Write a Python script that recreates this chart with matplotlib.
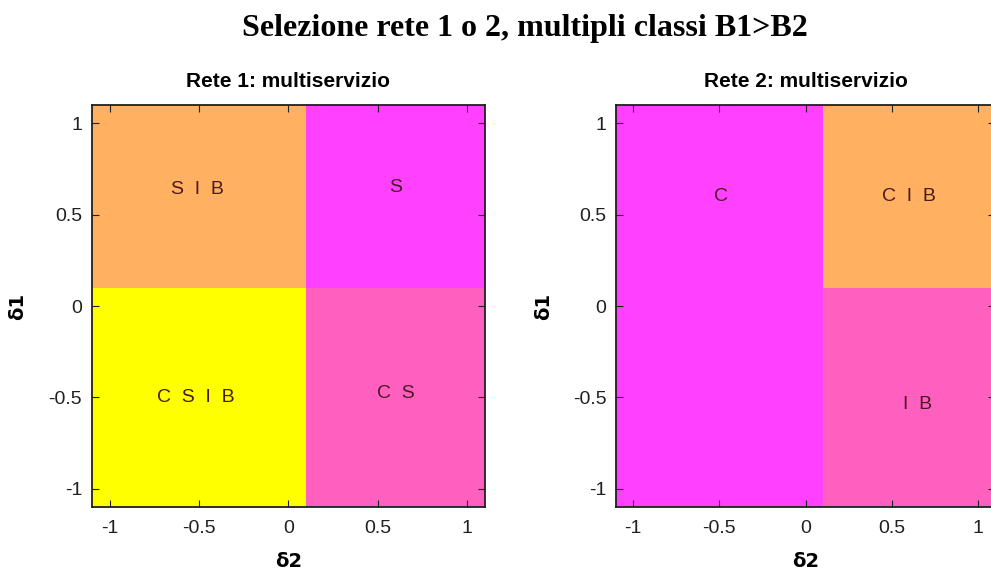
import numpy as np
import matplotlib.pyplot as plt
from matplotlib.colors import ListedColormap

# region boundaries (delta2 on x, delta1 on y)
x_edges = [-1.1, 0.1, 1.1]
y_edges = [-1.1, 0.1, 1.1]

# colour index per cell: rows = y (bottom, top), cols = x (left, right)
palette = ['#FFFF00', '#FFB060', '#FF40FF', '#FF60C0']
rete1_cells = [[0, 3],
               [1, 2]]
rete2_cells = [[2, 3],
               [2, 1]]

rete1_labels = ['S I B', 'S', 'C S I B', 'C S']
rete1_lx = [-0.51, 0.6, -0.52, 0.6]
rete1_ly = [0.64, 0.65, -0.5, -0.48]

rete2_labels = ['C', 'C I B', 'I B']
rete2_lx = [-0.49, 0.6, 0.65]
rete2_ly = [0.6, 0.6, -0.54]

ticks = [-1, -0.5, 0, 0.5, 1]
ticklabels = ['-1', '-0.5', '0', '0.5', '1']

fig = plt.figure(figsize=(9.91, 5.72), dpi=100)
fig.text(0.53, 0.951, 'Selezione rete 1 o 2, multipli classi B1>B2',
         ha='center', va='center', fontsize=23, fontweight='bold',
         family='Liberation Serif')

ax1 = fig.add_axes([0.0928, 0.1136, 0.3966, 0.7028])
ax2 = fig.add_axes([0.6216, 0.1136, 0.3826, 0.7028])

cmap = ListedColormap(palette)
panels = [(ax1, rete1_cells, rete1_labels, rete1_lx, rete1_ly, 'Rete 1: multiservizio'),
          (ax2, rete2_cells, rete2_labels, rete2_lx, rete2_ly, 'Rete 2: multiservizio')]

for ax, cells, labels, lx, ly, title in panels:
    ax.pcolormesh(x_edges, y_edges, np.array(cells), cmap=cmap, vmin=-0.5, vmax=3.5)
    for t, x, y in zip(labels, lx, ly):
        ax.text(x, y, t.replace(' ', '  '), ha='center', va='center', fontsize=14,
                color='#4a1a22', family='Liberation Sans')
    ax.set_xlim(-1.1, 1.1)
    ax.set_ylim(-1.1, 1.1)
    ax.set_xticks(ticks)
    ax.set_xticklabels(ticklabels)
    ax.set_yticks(ticks)
    ax.set_yticklabels(ticklabels)
    ax.tick_params(direction='in', top=True, right=True, length=5,
                   labelsize=14, colors='#202020')
    ax.tick_params(axis='x', pad=9)
    ax.tick_params(axis='y', pad=7)
    for lab in ax.get_xticklabels() + ax.get_yticklabels():
        lab.set_family('Liberation Sans')
    ax.set_title(title, fontsize=15, fontweight='bold', family='Liberation Sans', pad=13)
    ax.set_xlabel('δ2', fontsize=14, fontweight='bold', labelpad=11)
    ax.set_ylabel('δ1', fontsize=14, fontweight='bold')
    ax.yaxis.set_label_coords(-0.165, 0.5)
    for s in ax.spines.values():
        s.set_linewidth(1.3)
        s.set_color('#202020')

fig.savefig('out.png', dpi=100)
